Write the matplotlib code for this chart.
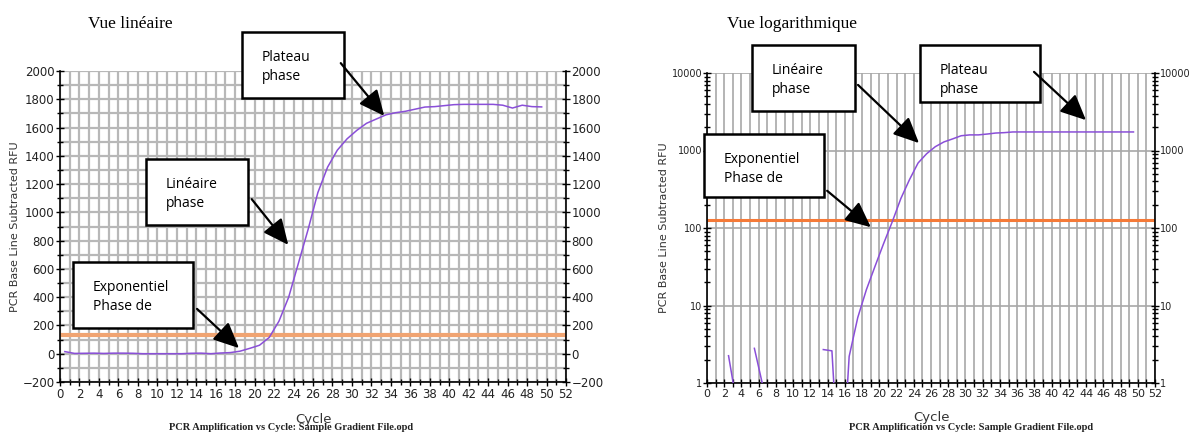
import numpy as np
import matplotlib.pyplot as plt
from matplotlib.ticker import MultipleLocator, LogLocator, NullFormatter, FixedLocator

# --- données ---
cycles = np.arange(1, 51) - 0.5

rfu_lin = [15, 2, 3, 4, 2, 4, 4, 3, 0, 0,
           0, 0, 0, 3, 4, 0, 5, 8, 18, 38,
           60, 115, 230, 400, 640, 880, 1140, 1320, 1440, 1520,
           1580, 1630, 1660, 1690, 1705, 1715, 1730, 1745, 1748, 1755,
           1762, 1764, 1764, 1764, 1764, 1758, 1738, 1758, 1748, 1746]

# valeurs <= 0 masquées sur l'échelle log
rfu_log = [np.nan, np.nan, 2.25, 0.5, np.nan, 2.8, 0.9, np.nan, np.nan, np.nan,
           np.nan, np.nan, np.nan, 2.7, 2.6, 0.03, 2.2, 7, 16, 32,
           63, 120, 240, 420, 690, 910, 1120, 1290, 1410, 1550,
           1590, 1590, 1630, 1680, 1700, 1735, 1735, 1735, 1735, 1735,
           1735, 1735, 1735, 1735, 1735, 1735, 1735, 1735, 1735, 1735]

seuil = 130

titres = ["Vue linéaire", "Vue logarithmique"]
ylabel = "PCR Base Line Subtracted RFU"
sous_titre = "PCR Amplification vs Cycle: Sample Gradient File.opd"

# boîtes: (texte, x0, y0, x1, y1 en pixels, texte_xy, flèche depart, flèche pointe)
W, H = 1189, 432
boites_lin = [
    ("Plateau\nphase", (242, 32, 344, 98), (262, 67), (339, 61), (386, 118)),
    ("Linéaire\nphase", (146, 159, 248, 225), (166, 194), (250, 197), (290, 247)),
    ("Exponentiel\nPhase de", (73, 262, 193, 328), (93, 297), (195, 307), (241, 350)),
]
boites_log = [
    ("Linéaire\nphase", (752, 45, 855, 111), (772, 80), (856, 83), (921, 145)),
    ("Plateau\nphase", (920, 45, 1040, 102), (940, 80), (1032, 70), (1088, 122)),
    ("Exponentiel\nPhase de", (704, 134, 824, 197), (724, 169), (825, 189), (873, 229)),
]

violet = '#8a4fd8'


def fx(px):
    return px / W


def fy(py):
    return 1 - py / H


fig = plt.figure(figsize=(11.89, 4.32), dpi=100)

# --- vue linéaire ---
ax1 = fig.add_axes([fx(60), fy(382), fx(566) - fx(60), fy(71) - fy(382)])
ax1.plot(cycles, rfu_lin, color=violet, lw=1.1, zorder=3)
ax1.axhline(seuil, color='#f0a472', lw=3, zorder=2)
ax1.set_xlim(0, 52)
ax1.set_ylim(-200, 2000)
ax1.xaxis.set_major_locator(MultipleLocator(2))
ax1.xaxis.set_minor_locator(MultipleLocator(1))
ax1.yaxis.set_major_locator(MultipleLocator(200))
ax1.yaxis.set_minor_locator(MultipleLocator(100))
ax1.grid(which='both', color='#b8b8b8', lw=1.6, zorder=0)
ax1.tick_params(which='both', direction='inout', length=6, width=1, labelsize=8.5,
                right=True, labelright=True, top=False, pad=1, labelcolor='#222222')
ax1.tick_params(which='minor', length=5)

# --- vue logarithmique ---
ax2 = fig.add_axes([fx(707), fy(383), fx(1155) - fx(707), fy(73) - fy(383)])
ax2.set_yscale('log')
ax2.plot(cycles, rfu_log, color=violet, lw=1.1, zorder=3)
ax2.axhline(seuil - 5, color='#f57a38', lw=2.2, zorder=2)
ax2.set_xlim(0, 52)
ax2.set_ylim(1, 10000)
ax2.xaxis.set_major_locator(MultipleLocator(2))
ax2.xaxis.set_minor_locator(MultipleLocator(1))
ax2.yaxis.set_major_locator(FixedLocator([1, 10, 100, 1000, 10000]))
ax2.set_yticklabels(['1', '10', '100', '1000', '10000'])
ax2.yaxis.set_minor_locator(LogLocator(base=10, subs=np.arange(2, 10)))
ax2.yaxis.set_minor_formatter(NullFormatter())
ax2.grid(which='major', axis='y', color='#a8a8a8', lw=1.2, zorder=0)
ax2.grid(which='both', axis='x', color='#a8a8a8', lw=1.2, zorder=0)
ax2.tick_params(which='both', direction='inout', length=6, width=1, labelsize=8,
                right=True, labelright=True, top=False, pad=1, labelcolor='#222222')
ax2.tick_params(axis='y', labelsize=7, pad=0.5)
ax2.tick_params(which='minor', axis='y', length=4)
ax2.tick_params(which='minor', axis='x', length=6)

for ax, titre, tx in [(ax1, titres[0], 88), (ax2, titres[1], 727)]:
    ax.spines['top'].set_visible(False)
    for s in ['left', 'right', 'bottom']:
        ax.spines[s].set_linewidth(1.2)
    ax.set_ylabel(ylabel, fontsize=8, labelpad=2, color='#333333')
    ax.set_xlabel("Cycle", fontsize=9.5, labelpad=9, color='#333333')
    fig.text(fx(tx), fy(24), titre, fontsize=12.5, family='Liberation Serif',
             va='center', ha='left')

fig.text(fx(291), fy(427), sous_titre, fontsize=7.5, family='Liberation Serif',
         weight='bold', ha='center', va='center', color='#222222')
fig.text(fx(971), fy(428), sous_titre, fontsize=7.5, family='Liberation Serif',
         weight='bold', ha='center', va='center', color='#222222')

# --- boîtes et flèches en coordonnées figure ---
for boites in [boites_lin, boites_log]:
    for texte, (x0, y0, x1, y1), (txx, txy), (ax_, ay_), (bx, by) in boites:
        rect = plt.Rectangle((fx(x0), fy(y1)), fx(x1) - fx(x0), fy(y0) - fy(y1),
                             transform=fig.transFigure, facecolor='white',
                             edgecolor='black', lw=1.8, zorder=10)
        fig.add_artist(rect)
        fig.text(fx(txx), fy(txy), texte, fontsize=10, family='Open Sans',
                 va='center', ha='left', linespacing=1.45, zorder=11)
        fig.add_artist(plt.matplotlib.patches.FancyArrowPatch(
            (fx(ax_), fy(ay_)), (fx(bx), fy(by)), transform=fig.transFigure,
            arrowstyle='-|>,head_length=1.3,head_width=0.6', mutation_scale=12,
            color='black', lw=1.6, zorder=12))

fig.savefig('out.png', dpi=100)
